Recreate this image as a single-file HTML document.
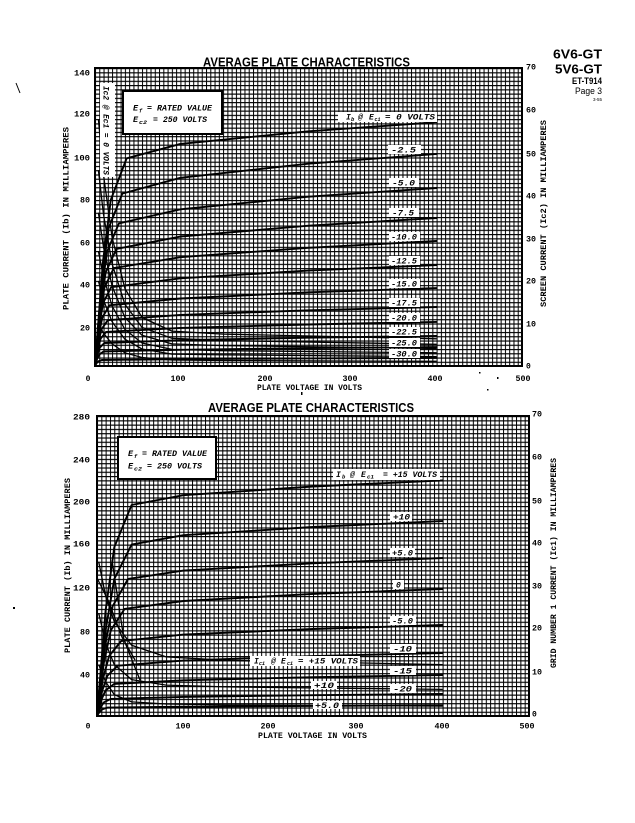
<!DOCTYPE html>
<html><head><meta charset="utf-8">
<style>
html,body{margin:0;padding:0;background:#fff;}
svg{display:block}
.t{font-family:"Liberation Mono",monospace;font-weight:bold;font-size:8px;fill:#000}
.it{font-family:"Liberation Mono",monospace;font-weight:bold;font-style:italic;font-size:8px;fill:#000}
.sb{font-family:"Liberation Mono",monospace;font-weight:bold;font-style:italic;font-size:5.5px;fill:#000}
.ti{font-family:"Liberation Sans",sans-serif;font-weight:bold;font-size:13px;fill:#000}
.c{fill:none;stroke:#000;stroke-width:1.9;stroke-linejoin:round;stroke-linecap:round}
.s{fill:none;stroke:#000;stroke-width:1.3;stroke-linejoin:round}
</style></head><body>
<svg width="635" height="823" viewBox="0 0 635 823" xmlns="http://www.w3.org/2000/svg">
<defs>
<pattern id="g1" x="95" y="68" width="4.27" height="4.2571" patternUnits="userSpaceOnUse">
<rect x="0" y="0" width="1" height="4.2571" fill="#000"/>
<rect x="0" y="0" width="4.27" height="1.15" fill="#000"/>
</pattern>
<pattern id="g2" x="97" y="416" width="4.32" height="4.2857" patternUnits="userSpaceOnUse">
<rect x="0" y="0" width="1" height="4.2857" fill="#000"/>
<rect x="0" y="0" width="4.32" height="1.15" fill="#000"/>
</pattern>
</defs>
<rect width="635" height="823" fill="#fff"/>

<!-- header -->
<text class="ti" x="553" y="58.5" textLength="49" lengthAdjust="spacingAndGlyphs">6V6-GT</text>
<text class="ti" x="555" y="73.3" textLength="47" lengthAdjust="spacingAndGlyphs">5V6-GT</text>
<text class="ti" x="572" y="84" style="font-size:9px" textLength="30" lengthAdjust="spacingAndGlyphs">ET-T914</text>
<text x="575" y="94" style="font-family:'Liberation Sans',sans-serif;font-size:9px" textLength="27" lengthAdjust="spacingAndGlyphs">Page 3</text>
<text x="593" y="101" style="font-family:'Liberation Sans',sans-serif;font-size:4.5px" textLength="9" lengthAdjust="spacingAndGlyphs">3-55</text>

<!-- specks -->
<line x1="16" y1="83" x2="20" y2="93" stroke="#000" stroke-width="1"/>
<rect x="13" y="607" width="2" height="2" fill="#000"/>
<rect x="301" y="392" width="1.5" height="3" fill="#000"/>
<rect x="479" y="372" width="1.5" height="1.5" fill="#000"/>
<rect x="497" y="377" width="1.5" height="2" fill="#000"/>
<rect x="487" y="389" width="1.5" height="1.5" fill="#000"/>

<!-- ===== TOP CHART ===== -->
<text class="ti" x="203" y="66.5" textLength="207" lengthAdjust="spacingAndGlyphs">AVERAGE PLATE CHARACTERISTICS</text>
<rect x="95" y="68" width="427" height="298" fill="url(#g1)"/>
<rect x="95" y="68" width="427" height="298" fill="none" stroke="#000" stroke-width="2"/>

<!-- plate curves top -->
<polyline class="c" points="95,366 102.9,262.2 110.8,199.9 126.6,158.4 180.4,143.9 308.5,131.3 436.6,122.2"/>
<polyline class="c" points="95,366 101.8,279.8 108.7,228 122.3,193.6 180.4,177.8 308.5,163.7 436.6,153.9"/>
<polyline class="c" points="95,366 101,294.7 107,251.9 118.9,223.4 180.4,209.3 308.5,196.7 436.6,188"/>
<polyline class="c" points="95,366 100.3,307.5 105.7,272.3 116.4,248.9 180.4,236.6 308.5,225.7 436.6,218"/>
<polyline class="c" points="95,366 99.7,317 104.4,287.7 113.8,268.1 180.4,257.2 308.5,247.8 436.6,241"/>
<polyline class="c" points="95,366 99.1,326.6 103.1,303 111.2,287.2 180.4,278.3 308.5,270.6 436.6,265.1"/>
<polyline class="c" points="95,366 98.6,335.7 102.3,317.5 109.5,305.3 180.4,298.5 308.5,292.3 436.6,288.1"/>
<polyline class="c" points="95,366 98.2,343.1 101.4,329.4 107.8,320.2 180.4,314.9 308.5,310.3 436.6,307"/>
<polyline class="c" points="95,366 97.8,349 100.6,338.7 106.1,331.9 180.4,327.9 308.5,324.5 436.6,321.9"/>
<polyline class="c" points="95,366 97.3,354.5 99.7,347.7 104.4,343 180.4,340.2 308.5,337.7 436.6,336"/>
<polyline class="c" points="95,366 97.1,358.8 99.3,354.5 103.5,351.5 180.4,349.8 308.5,348.1 436.6,347.1"/>
<polyline class="c" points="95,366 96.7,363 98.4,361.3 101.8,360 180.4,359.2 308.5,358.4 436.6,357.9"/>

<!-- screen curves top -->
<polyline class="s" points="98.4,119.1 103.5,174.9 112.1,237.4 124.9,288.5 142,317.5 171.9,331.1 223.1,334.1 436.6,338.8"/>
<polyline class="s" points="98.4,170.2 103.5,214.4 112.1,263.8 124.9,304.3 142,327.3 171.9,338.3 223.1,340.5 436.6,344.3"/>
<polyline class="s" points="98.4,212.7 103.5,247.2 112.1,286 124.9,317.5 142,335.3 171.9,343.9 223.1,345.6 436.6,348.5"/>
<polyline class="s" points="98.4,251.1 103.5,277 112.1,306 124.9,329.4 142,343 171.9,349.4 223.1,350.7 436.6,352.8"/>
<polyline class="s" points="98.4,280.9 103.5,300 112.1,321.7 124.9,339.2 142,349 171.9,354.1 223.1,354.9 436.6,356.6"/>
<polyline class="s" points="98.4,323.4 103.5,333.2 112.1,343.9 124.9,352.8 142,357.5 171.9,360 223.1,360.5 436.6,361.3"/>

<!-- Ic2 strip -->
<rect x="100" y="83" width="15" height="94" fill="#fff"/>
<text class="it" transform="translate(103.5,86) rotate(90)" textLength="89" lengthAdjust="spacingAndGlyphs">Ic2 @ Ec1 = 0 VOLTS</text>

<!-- Ef box top -->
<rect x="123" y="91" width="99" height="43" fill="#fff" stroke="#000" stroke-width="2"/>
<text class="it" x="133" y="110.5" style="font-size:8.5px">E</text>
<text class="sb" x="139" y="112.5">f</text>
<text class="it" x="147" y="110.5" textLength="65" lengthAdjust="spacingAndGlyphs">= RATED VALUE</text>
<text class="it" x="133" y="122" style="font-size:8.5px">E</text>
<text class="sb" x="139" y="124" textLength="8" lengthAdjust="spacingAndGlyphs">c2</text>
<text class="it" x="153" y="122" textLength="54" lengthAdjust="spacingAndGlyphs">= 250 VOLTS</text>

<!-- curve labels top -->
<rect x="338" y="112" width="99" height="10" fill="#fff"/>
<text class="it" x="346" y="119.5">I</text><text class="sb" x="351" y="121">b</text>
<text class="it" x="358" y="119.5">@</text>
<text class="it" x="369" y="119.5">E</text><text class="sb" x="374.5" y="121" textLength="6" lengthAdjust="spacingAndGlyphs">c1</text>
<text class="it" x="385" y="119.5" textLength="50" lengthAdjust="spacingAndGlyphs">= 0 VOLTS</text>

<rect x="388" y="145" width="33" height="9" fill="#fff"/><text class="it" x="391" y="152.5" textLength="25" lengthAdjust="spacingAndGlyphs">-2.5</text>
<rect x="389" y="178" width="30" height="9" fill="#fff"/><text class="it" x="392" y="185.5" textLength="23" lengthAdjust="spacingAndGlyphs">-5.0</text>
<rect x="389" y="208" width="30" height="9" fill="#fff"/><text class="it" x="392" y="215.5" textLength="22" lengthAdjust="spacingAndGlyphs">-7.5</text>
<rect x="389" y="232" width="31" height="9" fill="#fff"/><text class="it" x="391" y="239.5" textLength="26" lengthAdjust="spacingAndGlyphs">-10.0</text>
<rect x="389" y="256" width="31" height="9" fill="#fff"/><text class="it" x="391" y="263.5" textLength="26" lengthAdjust="spacingAndGlyphs">-12.5</text>
<rect x="389" y="279" width="31" height="9" fill="#fff"/><text class="it" x="391" y="286.5" textLength="26" lengthAdjust="spacingAndGlyphs">-15.0</text>
<rect x="389" y="298" width="31" height="9" fill="#fff"/><text class="it" x="391" y="305.5" textLength="26" lengthAdjust="spacingAndGlyphs">-17.5</text>
<rect x="389" y="313" width="31" height="9" fill="#fff"/><text class="it" x="391" y="320.5" textLength="26" lengthAdjust="spacingAndGlyphs">-20.0</text>
<rect x="389" y="327" width="31" height="9" fill="#fff"/><text class="it" x="391" y="334.5" textLength="26" lengthAdjust="spacingAndGlyphs">-22.5</text>
<rect x="389" y="338" width="31" height="9" fill="#fff"/><text class="it" x="391" y="345.5" textLength="26" lengthAdjust="spacingAndGlyphs">-25.0</text>
<rect x="389" y="349" width="31" height="9" fill="#fff"/><text class="it" x="391" y="356.5" textLength="26" lengthAdjust="spacingAndGlyphs">-30.0</text>

<!-- top ticks -->
<g class="t" text-anchor="end">
<text x="90" y="75.5" textLength="16" lengthAdjust="spacingAndGlyphs">140</text>
<text x="90" y="116.5" textLength="16" lengthAdjust="spacingAndGlyphs">120</text>
<text x="90" y="160.5" textLength="16" lengthAdjust="spacingAndGlyphs">100</text>
<text x="90" y="202.5" textLength="10" lengthAdjust="spacingAndGlyphs">80</text>
<text x="90" y="245.5" textLength="10" lengthAdjust="spacingAndGlyphs">60</text>
<text x="90" y="287.5" textLength="10" lengthAdjust="spacingAndGlyphs">40</text>
<text x="90" y="330.5" textLength="10" lengthAdjust="spacingAndGlyphs">20</text>
</g>
<g class="t">
<text x="526" y="69.5" textLength="10" lengthAdjust="spacingAndGlyphs">70</text>
<text x="526" y="112.5" textLength="10" lengthAdjust="spacingAndGlyphs">60</text>
<text x="526" y="156.5" textLength="10" lengthAdjust="spacingAndGlyphs">50</text>
<text x="526" y="198.5" textLength="10" lengthAdjust="spacingAndGlyphs">40</text>
<text x="526" y="241.5" textLength="10" lengthAdjust="spacingAndGlyphs">30</text>
<text x="526" y="283.5" textLength="10" lengthAdjust="spacingAndGlyphs">20</text>
<text x="526" y="326.5" textLength="10" lengthAdjust="spacingAndGlyphs">10</text>
<text x="526" y="368.5">0</text>
</g>
<g class="t" text-anchor="middle">
<text x="88" y="381">0</text>
<text x="178" y="381" textLength="15" lengthAdjust="spacingAndGlyphs">100</text>
<text x="265" y="381" textLength="15" lengthAdjust="spacingAndGlyphs">200</text>
<text x="350" y="381" textLength="15" lengthAdjust="spacingAndGlyphs">300</text>
<text x="435" y="381" textLength="15" lengthAdjust="spacingAndGlyphs">400</text>
<text x="523" y="381" textLength="15" lengthAdjust="spacingAndGlyphs">500</text>
</g>
<text class="t" x="257" y="390" textLength="105" lengthAdjust="spacingAndGlyphs">PLATE VOLTAGE IN VOLTS</text>
<text class="t" transform="translate(68.5,310) rotate(-90)" textLength="183" lengthAdjust="spacingAndGlyphs">PLATE CURRENT (Ib) IN MILLIAMPERES</text>
<text class="t" transform="translate(546,307) rotate(-90)" textLength="187" lengthAdjust="spacingAndGlyphs">SCREEN CURRENT (Ic2) IN MILLIAMPERES</text>

<!-- ===== BOTTOM CHART ===== -->
<text class="ti" x="208" y="412" textLength="206" lengthAdjust="spacingAndGlyphs">AVERAGE PLATE CHARACTERISTICS</text>
<rect x="97" y="416" width="432" height="300" fill="url(#g2)"/>
<rect x="97" y="416" width="432" height="300" fill="none" stroke="#000" stroke-width="2"/>

<polyline class="c" points="97,716 105.6,610.5 114.3,547.2 131.6,505 183.4,495.2 313,486.5 442.6,480.4"/>
<polyline class="c" points="97,716 105.6,630.3 114.3,578.9 131.6,544.6 183.4,535.2 313,527 442.6,521.1"/>
<polyline class="c" points="97,716 104.8,647.5 112.6,606.3 128.1,578.9 183.4,570.6 313,563.3 442.6,558"/>
<polyline class="c" points="97,716 103.9,662.5 110.8,630.3 124.6,608.9 183.4,601 313,593.9 442.6,589"/>
<polyline class="c" points="97,716 103,678.5 109.1,656 121.2,641 183.4,634.6 313,629 442.6,625"/>
<polyline class="c" points="97,716 102.2,690.8 107.4,675.7 117.7,665.7 183.4,660.6 313,656.1 442.6,653"/>
<polyline class="c" points="97,716 101.3,699.9 105.6,690.3 114.3,683.9 183.4,680.3 313,677.2 442.6,675"/>
<polyline class="c" points="97,716 100.5,707.4 103.9,702.3 110.8,698.9 183.4,696.9 313,695.2 442.6,694"/>
<polyline class="c" points="97,716 99.6,711.8 102.2,709.4 107.4,707.6 183.4,706.7 313,705.9 442.6,705.3"/>

<!-- grid current curves -->
<polyline class="s" points="98.7,561.7 105.6,596 114.3,621.7 131.6,645.3 166.1,656.9 226.6,660.3 442.6,664.6"/>
<polyline class="s" points="98.7,613.1 105.6,643.1 114.3,664.6 131.6,679.6 166.1,685.1 226.6,686.9 442.6,689.4"/>
<polyline class="s" points="98.7,664.6 105.6,681.7 114.3,694.6 131.6,701.9 166.1,704 226.6,704.9 442.6,706.1"/>
<polyline class="s" points="112,560 118,600 124,640 140,680"/>
<polyline class="s" points="97,578 108,600 122,637 135,660"/>

<!-- Ef box bottom -->
<rect x="118" y="437" width="98" height="42" fill="#fff" stroke="#000" stroke-width="2"/>
<text class="it" x="128" y="456" style="font-size:8.5px">E</text>
<text class="sb" x="134" y="458">f</text>
<text class="it" x="142" y="456" textLength="65" lengthAdjust="spacingAndGlyphs">= RATED VALUE</text>
<text class="it" x="128" y="468.5" style="font-size:8.5px">E</text>
<text class="sb" x="134" y="470.5" textLength="8" lengthAdjust="spacingAndGlyphs">c2</text>
<text class="it" x="147" y="468.5" textLength="55" lengthAdjust="spacingAndGlyphs">= 250 VOLTS</text>

<!-- curve labels bottom -->
<rect x="333" y="469" width="107" height="11" fill="#fff"/>
<text class="it" x="336" y="477">I</text><text class="sb" x="342" y="478.5">b</text>
<text class="it" x="350" y="477">@</text>
<text class="it" x="361" y="477">E</text><text class="sb" x="367" y="478.5" textLength="7" lengthAdjust="spacingAndGlyphs">c1</text>
<text class="it" x="383" y="477" textLength="54" lengthAdjust="spacingAndGlyphs">= +15 VOLTS</text>

<rect x="390" y="512" width="22" height="9" fill="#fff"/><text class="it" x="393" y="519.5" textLength="17" lengthAdjust="spacingAndGlyphs">+10</text>
<rect x="390" y="548" width="25" height="9" fill="#fff"/><text class="it" x="392" y="555.5" textLength="21" lengthAdjust="spacingAndGlyphs">+5.0</text>
<rect x="393" y="580" width="11" height="9" fill="#fff"/><text class="it" x="396" y="587.5">0</text>
<rect x="390" y="616" width="26" height="9" fill="#fff"/><text class="it" x="392" y="623.5" textLength="21" lengthAdjust="spacingAndGlyphs">-5.0</text>
<rect x="390" y="644" width="26" height="9" fill="#fff"/><text class="it" x="393" y="651.5" textLength="19" lengthAdjust="spacingAndGlyphs">-10</text>
<rect x="390" y="666" width="26" height="9" fill="#fff"/><text class="it" x="393" y="673.5" textLength="19" lengthAdjust="spacingAndGlyphs">-15</text>
<rect x="390" y="684" width="26" height="9" fill="#fff"/><text class="it" x="393" y="691.5" textLength="19" lengthAdjust="spacingAndGlyphs">-20</text>

<rect x="250" y="656" width="110" height="10" fill="#fff"/>
<text class="it" x="254" y="663.5">I</text><text class="sb" x="259" y="665" textLength="6" lengthAdjust="spacingAndGlyphs">c1</text>
<text class="it" x="271" y="663.5">@</text>
<text class="it" x="281" y="663.5">E</text><text class="sb" x="287" y="665" textLength="6" lengthAdjust="spacingAndGlyphs">c1</text>
<text class="it" x="298" y="663.5" textLength="60" lengthAdjust="spacingAndGlyphs">= +15 VOLTS</text>
<rect x="311" y="681" width="26" height="8" fill="#fff"/><text class="it" x="314" y="688" textLength="20" lengthAdjust="spacingAndGlyphs">+10</text>
<rect x="313" y="701" width="29" height="8" fill="#fff"/><text class="it" x="315" y="708" textLength="24" lengthAdjust="spacingAndGlyphs">+5.0</text>

<!-- bottom ticks -->
<g class="t" text-anchor="end">
<text x="90" y="419.5" textLength="17" lengthAdjust="spacingAndGlyphs">280</text>
<text x="90" y="462.5" textLength="17" lengthAdjust="spacingAndGlyphs">240</text>
<text x="90" y="504.5" textLength="17" lengthAdjust="spacingAndGlyphs">200</text>
<text x="90" y="546.5" textLength="17" lengthAdjust="spacingAndGlyphs">160</text>
<text x="90" y="590.5" textLength="17" lengthAdjust="spacingAndGlyphs">120</text>
<text x="90" y="634.5" textLength="10" lengthAdjust="spacingAndGlyphs">80</text>
<text x="90" y="677.5" textLength="10" lengthAdjust="spacingAndGlyphs">40</text>
</g>
<g class="t">
<text x="532" y="416.5" textLength="10" lengthAdjust="spacingAndGlyphs">70</text>
<text x="532" y="459.5" textLength="10" lengthAdjust="spacingAndGlyphs">60</text>
<text x="532" y="503.5" textLength="10" lengthAdjust="spacingAndGlyphs">50</text>
<text x="532" y="545.5" textLength="10" lengthAdjust="spacingAndGlyphs">40</text>
<text x="532" y="588.5" textLength="10" lengthAdjust="spacingAndGlyphs">30</text>
<text x="532" y="630.5" textLength="10" lengthAdjust="spacingAndGlyphs">20</text>
<text x="532" y="674.5" textLength="10" lengthAdjust="spacingAndGlyphs">10</text>
<text x="532" y="716.5">0</text>
</g>
<g class="t" text-anchor="middle">
<text x="88" y="728.5">0</text>
<text x="183" y="728.5" textLength="15" lengthAdjust="spacingAndGlyphs">100</text>
<text x="268" y="728.5" textLength="15" lengthAdjust="spacingAndGlyphs">200</text>
<text x="356" y="728.5" textLength="15" lengthAdjust="spacingAndGlyphs">300</text>
<text x="442" y="728.5" textLength="15" lengthAdjust="spacingAndGlyphs">400</text>
<text x="527" y="728.5" textLength="15" lengthAdjust="spacingAndGlyphs">500</text>
</g>
<text class="t" x="258" y="738" textLength="109" lengthAdjust="spacingAndGlyphs">PLATE VOLTAGE IN VOLTS</text>
<text class="t" transform="translate(70,653) rotate(-90)" textLength="175" lengthAdjust="spacingAndGlyphs">PLATE CURRENT (Ib) IN MILLIAMPERES</text>
<text class="t" transform="translate(556,668) rotate(-90)" textLength="210" lengthAdjust="spacingAndGlyphs">GRID NUMBER 1 CURRENT (Ic1) IN MILLIAMPERES</text>
</svg>
</body></html>
